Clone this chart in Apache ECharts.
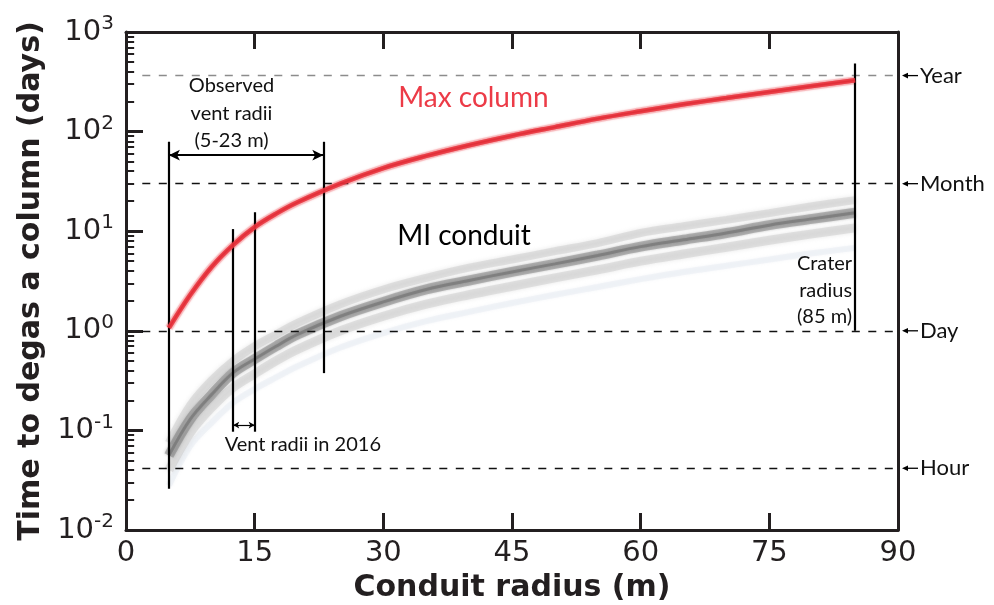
<!DOCTYPE html>
<html>
<head>
<meta charset="utf-8">
<script src="https://cdn.jsdelivr.net/npm/echarts@6/dist/echarts.min.js"></script>
<style>
html, body { margin: 0; padding: 0; background: #ffffff; }
#chart { width: 994px; height: 605px; }
</style>
</head>
<body>
<div id="chart"></div>
<script>
// Conduit radius (m) at which the degassing times are sampled
const radius = [5, 7.5, 10, 12.5, 15, 17.5, 20, 25, 30, 35, 40, 45, 50, 55, 60, 65, 70, 75, 80, 85];
// Max column degassing time (days)
const maxColumn = [1.07, 2.3, 4.4, 7.3, 11, 15, 19.5, 30, 43, 57, 73, 91, 111, 135, 160, 188, 217, 250, 287, 327];
// MI conduit ensemble: central trend, upper and lower envelope, faint tail (days)
const miCenter = [0.056, 0.13, 0.23, 0.38, 0.52, 0.7, 0.92, 1.4, 1.95, 2.6, 3.2, 3.9, 4.7, 5.7, 7.0, 8.2, 9.6, 11.5, 13.3, 15.3];
const miUpper = [0.075, 0.18, 0.32, 0.5, 0.7, 0.92, 1.2, 1.85, 2.6, 3.4, 4.3, 5.2, 6.3, 7.6, 9.6, 11.2, 13, 15.2, 17.8, 20.5];
const miLower = [0.04, 0.095, 0.17, 0.27, 0.37, 0.5, 0.65, 1.0, 1.4, 1.85, 2.3, 2.8, 3.4, 4.1, 5.0, 5.9, 6.9, 8.1, 9.4, 10.8];
const miFaint = [0.028, 0.07, 0.12, 0.19, 0.26, 0.34, 0.44, 0.68, 0.95, 1.25, 1.55, 1.9, 2.3, 2.75, 3.3, 3.9, 4.5, 5.2, 6.0, 6.8];

// Reference time scales (days)
const timeNames = ['Year', 'Month', 'Day', 'Hour'];
const timeDays = [365, 30, 1, 1 / 24];

// Radii marked on the plot (m)
const observedVent = [5, 23];
const vent2016 = [12.5, 15];
const craterRadius = 85;

const INK = '#231f20';
const RED = '#e8343e';

const pairs = values => radius.map((r, i) => [r, values[i]]);

function bandLine(values, color, width, opacity, blur, z) {
  return {
    type: 'line', data: pairs(values), smooth: 0.35, symbol: 'none',
    silent: true, animation: false, z: z,
    lineStyle: { color: color, width: width, opacity: opacity, shadowBlur: blur, shadowColor: color, cap: 'butt' }
  };
}

function markerSeries(lines, lineStyle, symbol, symbolSize, z) {
  return {
    type: 'line', data: [], z: z || 8, silent: true, animation: false,
    markLine: {
      silent: true, animation: false, symbol: symbol, symbolSize: symbolSize,
      label: { show: false }, emphasis: { disabled: true },
      lineStyle: lineStyle,
      data: lines
    }
  };
}

// Minor tick positions of the logarithmic axis (2..9 in every decade)
const minorTicks = [];
for (let e = -2; e < 3; e++) {
  for (let m = 2; m <= 9; m++) minorTicks.push(m * Math.pow(10, e));
}

const supLabel = v => {
  const e = Math.round(Math.log10(v));
  return '{b|10}{s|' + e + '}';
};

const chart = echarts.init(document.getElementById('chart'), null, { renderer: 'canvas' });

const axisLineStyle = { color: INK, width: 3 };

const option = {
  backgroundColor: '#ffffff',
  animation: false,
  grid: { left: 126, right: 96, top: 32, bottom: 75, containLabel: false, outerBoundsMode: 'none' },
  xAxis: [
    {
      type: 'value', min: 0, max: 90, interval: 15, position: 'bottom',
      axisLine: { show: true, onZero: false, lineStyle: axisLineStyle },
      axisTick: { show: true, inside: true, length: 17, lineStyle: { color: INK, width: 3 } },
      axisLabel: { fontSize: 29, fontFamily: 'DejaVu Sans', color: INK, margin: 9 },
      splitLine: { show: false },
      name: 'Conduit radius (m)', nameLocation: 'middle', nameGap: 42,
      nameTextStyle: { fontSize: 30, fontWeight: 'bold', fontFamily: 'DejaVu Sans', color: INK }
    },
    {
      type: 'value', min: 0, max: 90, interval: 15, position: 'top',
      axisLine: { show: true, onZero: false, lineStyle: axisLineStyle },
      axisTick: { show: true, inside: true, length: 17, lineStyle: { color: INK, width: 3 } },
      axisLabel: { show: false }, splitLine: { show: false }
    }
  ],
  yAxis: [
    {
      type: 'log', logBase: 10, min: 0.01, max: 1000, position: 'left',
      axisLine: { show: true, onZero: false, lineStyle: axisLineStyle },
      axisTick: { show: true, inside: true, length: 17, lineStyle: { color: INK, width: 3 } },
      axisLabel: {
        formatter: supLabel, margin: 12, color: INK,
        rich: {
          b: { fontSize: 29, fontFamily: 'DejaVu Sans', color: INK, lineHeight: 36 },
          s: { fontSize: 20, fontFamily: 'DejaVu Sans', color: INK, lineHeight: 20, verticalAlign: 'top' }
        }
      },
      splitLine: { show: false },
      name: 'Time to degas a column (days)', nameLocation: 'middle', nameGap: 80,
      nameTextStyle: { fontSize: 30, fontWeight: 'bold', fontFamily: 'DejaVu Sans', color: INK }
    },
    {
      type: 'log', logBase: 10, min: 0.01, max: 1000, position: 'right',
      axisLine: { show: true, onZero: false, lineStyle: axisLineStyle },
      axisTick: { show: false }, axisLabel: { show: false }, splitLine: { show: false }
    }
  ],
  series: [
    // MI conduit ensemble band
    bandLine(miFaint, '#e6ecf2', 6, 0.45, 3, 1),
    bandLine(miLower, '#b8b8b8', 9, 0.32, 4, 2),
    bandLine(miUpper, '#b3b3b3', 8, 0.3, 4, 2),
    bandLine(miCenter, '#7a7a7a', 10, 0.45, 3, 3),
    bandLine(miCenter, '#555555', 3, 0.25, 1, 3),
    // Max column band
    bandLine(maxColumn, '#f27a82', 8, 0.3, 2, 4),
    bandLine(maxColumn, RED, 4.5, 0.75, 1, 5),
    bandLine(maxColumn, '#d9202b', 1.3, 0.5, 0, 5),
    // Minor ticks on the left axis
    markerSeries(
      minorTicks.map(v => [{ coord: [0, v] }, { coord: [0.95, v] }]),
      { color: INK, width: 2, type: 'solid' }, ['none', 'none'], 0, 20
    ),
    // Reference time lines
    markerSeries(
      [[{ coord: [1.9, timeDays[0]] }, { coord: [90, timeDays[0]] }]],
      { color: '#8c8c8c', width: 1.3, type: [8, 8.5] }, ['none', 'none'], 0
    ),
    markerSeries(
      timeDays.slice(1).map(v => [{ coord: [1.9, v] }, { coord: [90, v] }]),
      { color: '#111111', width: 1.3, type: [8, 8.5] }, ['none', 'none'], 0
    ),
    // Vertical radius markers
    markerSeries(
      [
        [{ coord: [observedVent[0], 79] }, { coord: [observedVent[0], 0.026] }],
        [{ coord: [observedVent[1], 79] }, { coord: [observedVent[1], 0.376] }],
        [{ coord: [vent2016[0], 10.5] }, { coord: [vent2016[0], 0.097] }],
        [{ coord: [vent2016[1], 15.5] }, { coord: [vent2016[1], 0.097] }],
        [{ coord: [craterRadius, 482] }, { coord: [craterRadius, 1.0] }]
      ],
      { color: '#000000', width: 2.2, type: 'solid' }, ['none', 'none'], 0
    ),
    // Range arrows
    markerSeries(
      [[{ coord: [observedVent[0], 58] }, { coord: [observedVent[1], 58] }]],
      { color: '#000000', width: 1.8, type: 'solid' }, ['arrow', 'arrow'], [8, 11]
    ),
    markerSeries(
      [[{ coord: [vent2016[0], 0.113] }, { coord: [vent2016[1], 0.113] }]],
      { color: '#000000', width: 1.2, type: 'solid' }, ['arrow', 'arrow'], [5, 6]
    )
  ]
};

chart.setOption(option);

// Annotation text and time-scale pointers placed through the axis scales
const X = v => chart.convertToPixel({ xAxisIndex: 0 }, v);
const Y = v => chart.convertToPixel({ yAxisIndex: 0 }, v);
const NOTE_FONT = 'Lato, "Open Sans", sans-serif';

const graphics = [];
function note(text, x, y, size, color, align, lineHeight) {
  graphics.push({
    type: 'text', x: x, y: y, silent: true, z: 30,
    style: {
      text: text, fontSize: size, fontFamily: NOTE_FONT, fill: color,
      align: align, verticalAlign: 'middle', lineHeight: lineHeight || size * 1.3
    }
  });
}

note('Observed\nvent radii\n(5-23 m)', X(12.3), Y(153), 20, '#111111', 'center', 27.5);
note('Vent radii in 2016', X(11.5), Y(0.0713), 20, '#111111', 'left');
note('Max column', X(40.5), Y(216), 28, '#ec3b47', 'center');
note('MI conduit', X(39.4), Y(8.9), 28, '#000000', 'center');
note('Crater\nradius\n(85 m)', X(craterRadius) - 3, Y(2.56), 20, '#111111', 'right', 26.5);

const xr = X(90);
timeNames.forEach((name, i) => {
  const y = Y(timeDays[i]);
  graphics.push({
    type: 'line', silent: true, z: 30,
    shape: { x1: xr + 9, y1: y, x2: xr + 20, y2: y },
    style: { stroke: '#000000', lineWidth: 1.3 }
  });
  graphics.push({
    type: 'polygon', silent: true, z: 30,
    shape: { points: [[xr + 4, y], [xr + 10, y - 2.8], [xr + 10, y + 2.8]] },
    style: { fill: '#000000' }
  });
  note(name, xr + 22, y, 22, '#111111', 'left');
});

chart.setOption({ graphic: graphics });
</script>
</body>
</html>
